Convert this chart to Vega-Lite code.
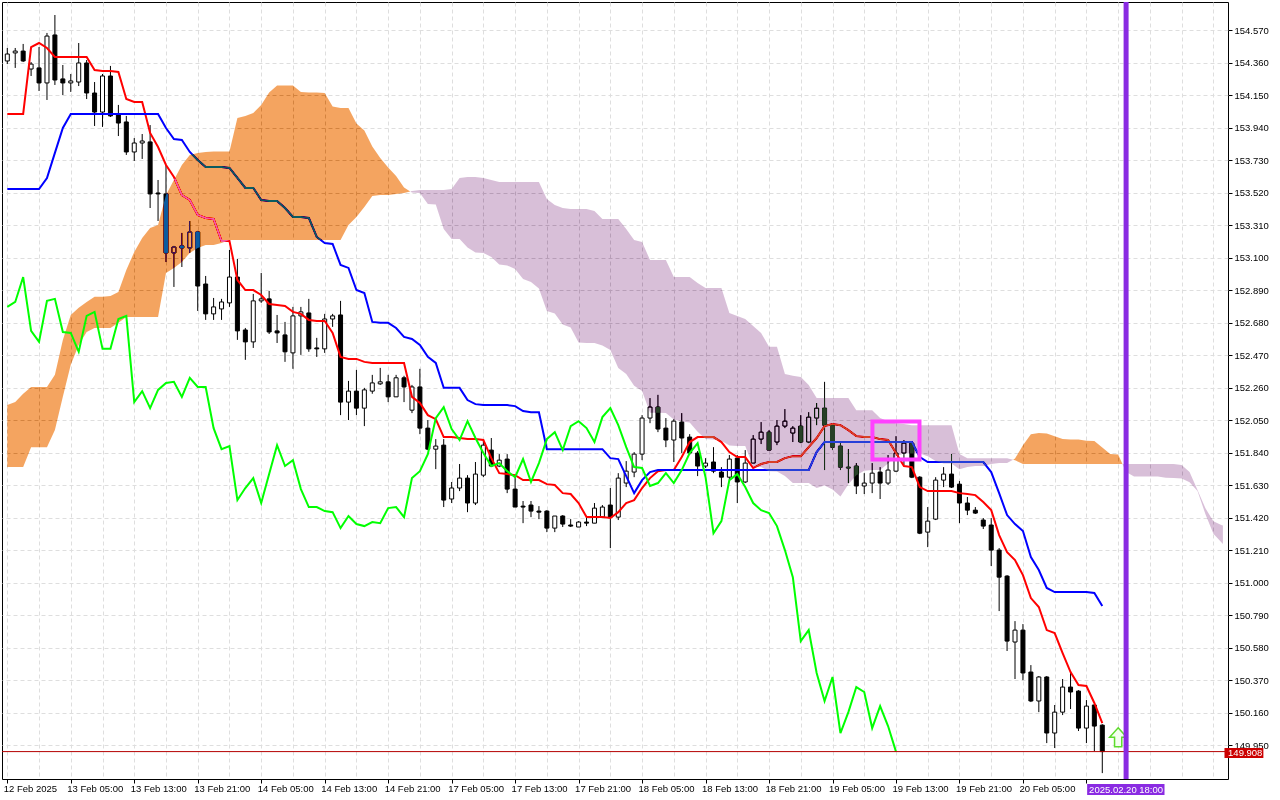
{
  "$schema": "https://vega.github.io/schema/vega-lite/v6.json",
  "width": 1226,
  "height": 777,
  "autosize": "none",
  "padding": {"left": 2, "top": 2, "right": 52, "bottom": 21},
  "background": "white",
  "config": {
    "view": {"stroke": "black", "strokeWidth": 1, "fill": "white"},
    "font": "Liberation Sans",
    "axis": {
      "labelFont": "Liberation Sans",
      "labelFontSize": 9.5,
      "labelColor": "black",
      "labelOverlap": false,
      "grid": true,
      "gridColor": "#dedede",
      "gridDash": [4, 3],
      "domain": false,
      "tickColor": "black",
      "tickSize": 4
    }
  },
  "datasets": {
    "bars": [
      {"k":0,"o":154.370,"h":154.454,"l":154.350,"c":154.415,"t":154.028,"kj":153.543,"ch":152.781},
      {"k":1,"o":154.422,"h":154.454,"l":154.325,"c":154.434,"t":154.028,"kj":153.543,"ch":152.813},
      {"k":2,"o":154.434,"h":154.480,"l":154.363,"c":154.370,"t":154.028,"kj":153.543,"ch":152.974},
      {"k":3,"o":154.318,"h":154.363,"l":154.273,"c":154.350,"t":154.460,"kj":153.543,"ch":152.626},
      {"k":4,"o":154.325,"h":154.460,"l":154.176,"c":154.228,"t":154.486,"kj":153.543,"ch":152.555},
      {"k":5,"o":154.228,"h":154.551,"l":154.118,"c":154.531,"t":154.454,"kj":153.614,"ch":152.820},
      {"k":6,"o":154.538,"h":154.667,"l":154.215,"c":154.247,"t":154.396,"kj":153.776,"ch":152.833},
      {"k":7,"o":154.254,"h":154.344,"l":154.150,"c":154.228,"t":154.396,"kj":153.937,"ch":152.619},
      {"k":8,"o":154.228,"h":154.286,"l":154.170,"c":154.241,"t":154.396,"kj":154.028,"ch":152.613},
      {"k":9,"o":154.234,"h":154.486,"l":154.208,"c":154.357,"t":154.396,"kj":154.028,"ch":152.491},
      {"k":10,"o":154.357,"h":154.376,"l":154.124,"c":154.163,"t":154.396,"kj":154.028,"ch":152.723},
      {"k":11,"o":154.163,"h":154.234,"l":153.950,"c":154.040,"t":154.312,"kj":154.028,"ch":152.749},
      {"k":12,"o":154.040,"h":154.286,"l":153.944,"c":154.273,"t":154.305,"kj":154.028,"ch":152.510},
      {"k":13,"o":154.273,"h":154.338,"l":154.008,"c":154.015,"t":154.305,"kj":154.028,"ch":152.510},
      {"k":14,"o":154.028,"h":154.086,"l":153.885,"c":153.969,"t":154.299,"kj":154.028,"ch":152.703},
      {"k":15,"o":153.976,"h":154.015,"l":153.763,"c":153.782,"t":154.124,"kj":154.028,"ch":152.723},
      {"k":16,"o":153.782,"h":153.872,"l":153.724,"c":153.840,"t":154.105,"kj":154.028,"ch":152.166},
      {"k":17,"o":153.840,"h":153.898,"l":153.737,"c":153.853,"t":154.105,"kj":154.028,"ch":152.237},
      {"k":18,"o":153.847,"h":153.956,"l":153.420,"c":153.511,"t":153.905,"kj":154.028,"ch":152.127},
      {"k":19,"o":153.517,"h":153.601,"l":153.336,"c":153.511,"t":153.814,"kj":154.028,"ch":152.245},
      {"k":20,"o":153.511,"h":153.698,"l":153.071,"c":153.130,"t":153.698,"kj":153.937,"ch":152.290},
      {"k":21,"o":153.130,"h":153.175,"l":152.910,"c":153.168,"t":153.620,"kj":153.866,"ch":152.297},
      {"k":22,"o":153.175,"h":153.259,"l":153.039,"c":153.162,"t":153.504,"kj":153.860,"ch":152.200},
      {"k":23,"o":153.162,"h":153.336,"l":153.130,"c":153.265,"t":153.472,"kj":153.782,"ch":152.323},
      {"k":24,"o":153.265,"h":153.272,"l":152.755,"c":152.916,"t":153.375,"kj":153.730,"ch":152.264},
      {"k":25,"o":152.929,"h":152.981,"l":152.697,"c":152.736,"t":153.356,"kj":153.685,"ch":152.264},
      {"k":26,"o":152.736,"h":152.839,"l":152.697,"c":152.781,"t":153.349,"kj":153.685,"ch":151.998},
      {"k":27,"o":152.768,"h":152.833,"l":152.697,"c":152.813,"t":153.207,"kj":153.685,"ch":151.862},
      {"k":28,"o":152.807,"h":153.149,"l":152.781,"c":152.974,"t":153.207,"kj":153.679,"ch":151.882},
      {"k":29,"o":152.974,"h":153.091,"l":152.568,"c":152.626,"t":152.955,"kj":153.614,"ch":151.533},
      {"k":30,"o":152.632,"h":152.645,"l":152.439,"c":152.555,"t":152.890,"kj":153.550,"ch":151.611},
      {"k":31,"o":152.555,"h":152.865,"l":152.516,"c":152.820,"t":152.890,"kj":153.550,"ch":151.675},
      {"k":32,"o":152.820,"h":153.000,"l":152.807,"c":152.833,"t":152.858,"kj":153.472,"ch":151.514},
      {"k":33,"o":152.833,"h":152.884,"l":152.606,"c":152.619,"t":152.800,"kj":153.466,"ch":151.701},
      {"k":34,"o":152.626,"h":152.729,"l":152.548,"c":152.613,"t":152.794,"kj":153.466,"ch":151.888},
      {"k":35,"o":152.600,"h":152.684,"l":152.426,"c":152.491,"t":152.787,"kj":153.420,"ch":151.753},
      {"k":36,"o":152.484,"h":152.781,"l":152.381,"c":152.723,"t":152.749,"kj":153.362,"ch":151.791},
      {"k":37,"o":152.723,"h":152.781,"l":152.471,"c":152.749,"t":152.736,"kj":153.362,"ch":151.604},
      {"k":38,"o":152.742,"h":152.833,"l":152.491,"c":152.510,"t":152.697,"kj":153.356,"ch":151.488},
      {"k":39,"o":152.516,"h":152.581,"l":152.458,"c":152.510,"t":152.690,"kj":153.233,"ch":151.488},
      {"k":40,"o":152.510,"h":152.736,"l":152.484,"c":152.703,"t":152.690,"kj":153.194,"ch":151.462},
      {"k":41,"o":152.703,"h":152.736,"l":152.652,"c":152.723,"t":152.613,"kj":153.188,"ch":151.455},
      {"k":42,"o":152.729,"h":152.820,"l":152.082,"c":152.166,"t":152.458,"kj":153.052,"ch":151.352},
      {"k":43,"o":152.166,"h":152.303,"l":152.050,"c":152.237,"t":152.445,"kj":153.033,"ch":151.430},
      {"k":44,"o":152.237,"h":152.374,"l":152.082,"c":152.127,"t":152.445,"kj":152.890,"ch":151.378},
      {"k":45,"o":152.127,"h":152.258,"l":152.011,"c":152.245,"t":152.426,"kj":152.871,"ch":151.365},
      {"k":46,"o":152.237,"h":152.342,"l":152.220,"c":152.290,"t":152.419,"kj":152.684,"ch":151.391},
      {"k":47,"o":152.284,"h":152.387,"l":152.277,"c":152.297,"t":152.419,"kj":152.678,"ch":151.384},
      {"k":48,"o":152.297,"h":152.342,"l":152.166,"c":152.200,"t":152.419,"kj":152.678,"ch":151.481},
      {"k":49,"o":152.200,"h":152.342,"l":152.200,"c":152.323,"t":152.419,"kj":152.645,"ch":151.488},
      {"k":50,"o":152.323,"h":152.336,"l":152.166,"c":152.264,"t":152.419,"kj":152.587,"ch":151.423},
      {"k":51,"o":152.114,"h":152.277,"l":152.095,"c":152.264,"t":152.200,"kj":152.574,"ch":151.675},
      {"k":52,"o":152.264,"h":152.381,"l":151.959,"c":151.998,"t":152.160,"kj":152.535,"ch":151.720},
      {"k":53,"o":151.998,"h":152.050,"l":151.856,"c":151.862,"t":152.082,"kj":152.458,"ch":151.830},
      {"k":54,"o":151.862,"h":151.927,"l":151.733,"c":151.882,"t":152.056,"kj":152.419,"ch":152.063},
      {"k":55,"o":151.888,"h":151.927,"l":151.488,"c":151.533,"t":151.940,"kj":152.258,"ch":152.134},
      {"k":56,"o":151.540,"h":151.650,"l":151.514,"c":151.611,"t":151.940,"kj":152.258,"ch":151.992},
      {"k":57,"o":151.611,"h":151.766,"l":151.591,"c":151.675,"t":151.934,"kj":152.258,"ch":151.921},
      {"k":58,"o":151.675,"h":151.694,"l":151.455,"c":151.514,"t":151.927,"kj":152.179,"ch":152.043},
      {"k":59,"o":151.514,"h":151.779,"l":151.501,"c":151.701,"t":151.927,"kj":152.153,"ch":151.934},
      {"k":60,"o":151.694,"h":151.921,"l":151.681,"c":151.888,"t":151.921,"kj":152.147,"ch":151.837},
      {"k":61,"o":151.856,"h":151.934,"l":151.746,"c":151.753,"t":151.804,"kj":152.147,"ch":151.753},
      {"k":62,"o":151.753,"h":151.830,"l":151.746,"c":151.791,"t":151.707,"kj":152.147,"ch":151.772},
      {"k":63,"o":151.798,"h":151.830,"l":151.578,"c":151.604,"t":151.701,"kj":152.147,"ch":151.720},
      {"k":64,"o":151.604,"h":151.681,"l":151.488,"c":151.488,"t":151.694,"kj":152.140,"ch":151.681},
      {"k":65,"o":151.494,"h":151.527,"l":151.384,"c":151.488,"t":151.662,"kj":152.108,"ch":151.798},
      {"k":66,"o":151.501,"h":151.527,"l":151.423,"c":151.462,"t":151.662,"kj":152.101,"ch":151.650},
      {"k":67,"o":151.462,"h":151.494,"l":151.410,"c":151.455,"t":151.662,"kj":152.101,"ch":151.772},
      {"k":68,"o":151.462,"h":151.468,"l":151.326,"c":151.352,"t":151.636,"kj":151.862,"ch":151.927},
      {"k":69,"o":151.352,"h":151.430,"l":151.326,"c":151.430,"t":151.630,"kj":151.862,"ch":151.972},
      {"k":70,"o":151.430,"h":151.436,"l":151.359,"c":151.378,"t":151.578,"kj":151.862,"ch":151.856},
      {"k":71,"o":151.372,"h":151.410,"l":151.359,"c":151.365,"t":151.572,"kj":151.862,"ch":152.011},
      {"k":72,"o":151.359,"h":151.397,"l":151.359,"c":151.391,"t":151.514,"kj":151.862,"ch":152.043},
      {"k":73,"o":151.391,"h":151.423,"l":151.365,"c":151.384,"t":151.423,"kj":151.862,"ch":151.998},
      {"k":74,"o":151.384,"h":151.514,"l":151.384,"c":151.481,"t":151.423,"kj":151.862,"ch":151.908},
      {"k":75,"o":151.423,"h":151.501,"l":151.417,"c":151.488,"t":151.423,"kj":151.862,"ch":152.069},
      {"k":76,"o":151.501,"h":151.611,"l":151.223,"c":151.423,"t":151.417,"kj":151.804,"ch":152.127},
      {"k":77,"o":151.423,"h":151.707,"l":151.404,"c":151.675,"t":151.455,"kj":151.798,"ch":152.017},
      {"k":78,"o":151.643,"h":151.785,"l":151.617,"c":151.720,"t":151.514,"kj":151.688,"ch":151.875},
      {"k":79,"o":151.714,"h":151.843,"l":151.681,"c":151.830,"t":151.533,"kj":151.578,"ch":151.746},
      {"k":80,"o":151.830,"h":152.082,"l":151.791,"c":152.063,"t":151.611,"kj":151.662,"ch":151.740},
      {"k":81,"o":152.063,"h":152.192,"l":152.030,"c":152.134,"t":151.675,"kj":151.714,"ch":151.624},
      {"k":82,"o":152.134,"h":152.213,"l":151.972,"c":151.992,"t":151.720,"kj":151.727,"ch":151.643},
      {"k":83,"o":151.998,"h":152.063,"l":151.875,"c":151.921,"t":151.727,"kj":151.727,"ch":151.707},
      {"k":84,"o":151.921,"h":152.056,"l":151.779,"c":152.043,"t":151.727,"kj":151.727,"ch":151.643},
      {"k":85,"o":152.037,"h":152.095,"l":151.837,"c":151.934,"t":151.811,"kj":151.727,"ch":151.727},
      {"k":86,"o":151.940,"h":151.959,"l":151.824,"c":151.837,"t":151.908,"kj":151.727,"ch":151.837},
      {"k":87,"o":151.837,"h":151.850,"l":151.688,"c":151.753,"t":151.940,"kj":151.727,"ch":151.901},
      {"k":88,"o":151.753,"h":151.804,"l":151.740,"c":151.772,"t":151.940,"kj":151.727,"ch":151.681},
      {"k":89,"o":151.779,"h":151.875,"l":151.707,"c":151.720,"t":151.940,"kj":151.727,"ch":151.319},
      {"k":90,"o":151.714,"h":151.746,"l":151.617,"c":151.681,"t":151.908,"kj":151.727,"ch":151.397},
      {"k":91,"o":151.681,"h":151.824,"l":151.662,"c":151.798,"t":151.843,"kj":151.727,"ch":151.662},
      {"k":92,"o":151.804,"h":151.824,"l":151.514,"c":151.650,"t":151.811,"kj":151.727,"ch":151.701},
      {"k":93,"o":151.650,"h":151.856,"l":151.643,"c":151.772,"t":151.811,"kj":151.727,"ch":151.617},
      {"k":94,"o":151.772,"h":151.953,"l":151.772,"c":151.927,"t":151.740,"kj":151.727,"ch":151.514},
      {"k":95,"o":151.927,"h":152.037,"l":151.895,"c":151.972,"t":151.766,"kj":151.727,"ch":151.468},
      {"k":96,"o":151.972,"h":151.985,"l":151.856,"c":151.856,"t":151.779,"kj":151.727,"ch":151.449},
      {"k":97,"o":151.908,"h":152.050,"l":151.888,"c":152.011,"t":151.779,"kj":151.727,"ch":151.365},
      {"k":98,"o":152.011,"h":152.121,"l":151.998,"c":152.043,"t":151.804,"kj":151.727,"ch":151.210},
      {"k":99,"o":151.966,"h":152.011,"l":151.908,"c":151.998,"t":151.817,"kj":151.727,"ch":151.035},
      {"k":100,"o":152.011,"h":152.082,"l":151.901,"c":151.908,"t":151.817,"kj":151.727,"ch":150.622},
      {"k":101,"o":151.908,"h":152.101,"l":151.901,"c":152.069,"t":151.875,"kj":151.727,"ch":150.693},
      {"k":102,"o":152.063,"h":152.160,"l":152.017,"c":152.127,"t":151.934,"kj":151.843,"ch":150.416},
      {"k":103,"o":152.127,"h":152.297,"l":151.727,"c":152.017,"t":152.011,"kj":151.908,"ch":150.235},
      {"k":104,"o":152.017,"h":152.030,"l":151.856,"c":151.875,"t":152.024,"kj":151.908,"ch":150.390},
      {"k":105,"o":151.882,"h":151.908,"l":151.727,"c":151.746,"t":152.017,"kj":151.908,"ch":150.028},
      {"k":106,"o":151.746,"h":151.862,"l":151.643,"c":151.740,"t":151.985,"kj":151.908,"ch":150.163},
      {"k":107,"o":151.753,"h":151.772,"l":151.572,"c":151.624,"t":151.946,"kj":151.908,"ch":150.325},
      {"k":108,"o":151.624,"h":151.707,"l":151.572,"c":151.643,"t":151.940,"kj":151.908,"ch":150.293},
      {"k":109,"o":151.643,"h":151.772,"l":151.578,"c":151.707,"t":151.940,"kj":151.908,"ch":150.060},
      {"k":110,"o":151.714,"h":151.746,"l":151.540,"c":151.643,"t":151.927,"kj":151.908,"ch":150.202},
      {"k":111,"o":151.643,"h":151.824,"l":151.630,"c":151.727,"t":151.921,"kj":151.908,"ch":150.073},
      {"k":112,"o":151.720,"h":151.946,"l":151.714,"c":151.837,"t":151.837,"kj":151.908,"ch":149.908},
      {"k":113,"o":151.837,"h":151.921,"l":151.759,"c":151.901,"t":151.753,"kj":151.908},
      {"k":114,"o":151.901,"h":151.908,"l":151.675,"c":151.681,"t":151.746,"kj":151.908},
      {"k":115,"o":151.681,"h":151.688,"l":151.313,"c":151.319,"t":151.617,"kj":151.811},
      {"k":116,"o":151.326,"h":151.488,"l":151.229,"c":151.397,"t":151.591,"kj":151.779},
      {"k":117,"o":151.410,"h":151.681,"l":151.404,"c":151.662,"t":151.591,"kj":151.779},
      {"k":118,"o":151.662,"h":151.746,"l":151.617,"c":151.701,"t":151.591,"kj":151.779},
      {"k":119,"o":151.701,"h":151.830,"l":151.611,"c":151.617,"t":151.591,"kj":151.779},
      {"k":120,"o":151.636,"h":151.656,"l":151.384,"c":151.514,"t":151.578,"kj":151.779},
      {"k":121,"o":151.514,"h":151.553,"l":151.436,"c":151.468,"t":151.572,"kj":151.779},
      {"k":122,"o":151.468,"h":151.488,"l":151.443,"c":151.449,"t":151.565,"kj":151.779},
      {"k":123,"o":151.404,"h":151.417,"l":151.346,"c":151.365,"t":151.520,"kj":151.779},
      {"k":124,"o":151.372,"h":151.417,"l":151.107,"c":151.210,"t":151.468,"kj":151.714},
      {"k":125,"o":151.210,"h":151.223,"l":150.816,"c":151.035,"t":151.307,"kj":151.578},
      {"k":126,"o":151.042,"h":151.048,"l":150.558,"c":150.622,"t":151.197,"kj":151.436},
      {"k":127,"o":150.616,"h":150.751,"l":150.377,"c":150.693,"t":151.145,"kj":151.378},
      {"k":128,"o":150.693,"h":150.732,"l":150.370,"c":150.416,"t":151.048,"kj":151.333},
      {"k":129,"o":150.422,"h":150.467,"l":150.228,"c":150.235,"t":150.900,"kj":151.165},
      {"k":130,"o":150.235,"h":150.396,"l":150.163,"c":150.390,"t":150.842,"kj":151.081},
      {"k":131,"o":150.390,"h":150.396,"l":149.963,"c":150.028,"t":150.693,"kj":150.965},
      {"k":132,"o":150.028,"h":150.209,"l":149.931,"c":150.163,"t":150.674,"kj":150.939},
      {"k":133,"o":150.163,"h":150.377,"l":150.144,"c":150.325,"t":150.545,"kj":150.939},
      {"k":134,"o":150.325,"h":150.422,"l":150.183,"c":150.293,"t":150.422,"kj":150.939},
      {"k":135,"o":150.299,"h":150.305,"l":150.041,"c":150.060,"t":150.338,"kj":150.939},
      {"k":136,"o":150.060,"h":150.241,"l":149.963,"c":150.202,"t":150.332,"kj":150.939},
      {"k":137,"o":150.209,"h":150.215,"l":149.911,"c":150.073,"t":150.222,"kj":150.933},
      {"k":138,"o":150.079,"h":150.085,"l":149.769,"c":149.908,"t":150.092,"kj":150.849}
    ],
    "cloud": [
      {"k":0,"a":152.147,"b":151.746,"s":"bull1"},
      {"k":1,"a":152.166,"b":151.746,"s":"bull1"},
      {"k":2,"a":152.220,"b":151.746,"s":"bull1"},
      {"k":3,"a":152.264,"b":151.875,"s":"bull1"},
      {"k":4,"a":152.264,"b":151.875,"s":"bull1"},
      {"k":5,"a":152.264,"b":151.875,"s":"bull1"},
      {"k":6,"a":152.342,"b":151.985,"s":"bull1"},
      {"k":7,"a":152.568,"b":152.200,"s":"bull1"},
      {"k":8,"a":152.729,"b":152.407,"s":"bull1"},
      {"k":9,"a":152.775,"b":152.535,"s":"bull1"},
      {"k":10,"a":152.813,"b":152.619,"s":"bull1"},
      {"k":11,"a":152.846,"b":152.645,"s":"bull1"},
      {"k":12,"a":152.846,"b":152.645,"s":"bull1"},
      {"k":13,"a":152.852,"b":152.645,"s":"bull1"},
      {"k":14,"a":152.878,"b":152.678,"s":"bull1"},
      {"k":15,"a":153.020,"b":152.716,"s":"bull1"},
      {"k":16,"a":153.136,"b":152.716,"s":"bull1"},
      {"k":17,"a":153.226,"b":152.716,"s":"bull1"},
      {"k":18,"a":153.291,"b":152.716,"s":"bull1"},
      {"k":19,"a":153.310,"b":152.716,"s":"bull1"},
      {"k":20,"a":153.504,"b":153.000,"s":"bull1"},
      {"k":21,"a":153.601,"b":153.033,"s":"bull1"},
      {"k":22,"a":153.698,"b":153.071,"s":"bull1"},
      {"k":23,"a":153.763,"b":153.130,"s":"bull1"},
      {"k":24,"a":153.776,"b":153.162,"s":"bull1"},
      {"k":25,"a":153.782,"b":153.181,"s":"bull1"},
      {"k":26,"a":153.785,"b":153.181,"s":"bull1"},
      {"k":27,"a":153.785,"b":153.194,"s":"bull1"},
      {"k":28,"a":153.785,"b":153.213,"s":"bull1"},
      {"k":29,"a":154.002,"b":153.213,"s":"bull1"},
      {"k":30,"a":154.015,"b":153.213,"s":"bull1"},
      {"k":31,"a":154.034,"b":153.213,"s":"bull1"},
      {"k":32,"a":154.086,"b":153.213,"s":"bull1"},
      {"k":33,"a":154.166,"b":153.213,"s":"bull1"},
      {"k":34,"a":154.212,"b":153.213,"s":"bull1"},
      {"k":35,"a":154.212,"b":153.213,"s":"bull1"},
      {"k":36,"a":154.212,"b":153.213,"s":"bull1"},
      {"k":37,"a":154.170,"b":153.213,"s":"bull1"},
      {"k":38,"a":154.166,"b":153.213,"s":"bull1"},
      {"k":39,"a":154.166,"b":153.213,"s":"bull1"},
      {"k":40,"a":154.163,"b":153.213,"s":"bull1"},
      {"k":41,"a":154.076,"b":153.213,"s":"bull1"},
      {"k":42,"a":154.066,"b":153.213,"s":"bull1"},
      {"k":43,"a":154.066,"b":153.310,"s":"bull1"},
      {"k":44,"a":153.966,"b":153.362,"s":"bull1"},
      {"k":45,"a":153.921,"b":153.427,"s":"bull1"},
      {"k":46,"a":153.817,"b":153.498,"s":"bull1"},
      {"k":47,"a":153.743,"b":153.504,"s":"bull1"},
      {"k":48,"a":153.682,"b":153.504,"s":"bull1"},
      {"k":49,"a":153.627,"b":153.511,"s":"bull1"},
      {"k":50,"a":153.553,"b":153.517,"s":"bull1"},
      {"k":50.78,"a":153.527,"b":153.527,"s":"bull1"},
      {"k":50.78,"a":153.527,"b":153.527,"s":"bear1"},
      {"k":51,"a":153.520,"b":153.530,"s":"bear1"},
      {"k":52,"a":153.517,"b":153.537,"s":"bear1"},
      {"k":53,"a":153.446,"b":153.537,"s":"bear1"},
      {"k":54,"a":153.443,"b":153.537,"s":"bear1"},
      {"k":55,"a":153.285,"b":153.537,"s":"bear1"},
      {"k":56,"a":153.220,"b":153.543,"s":"bear1"},
      {"k":57,"a":153.220,"b":153.614,"s":"bear1"},
      {"k":58,"a":153.165,"b":153.620,"s":"bear1"},
      {"k":59,"a":153.133,"b":153.620,"s":"bear1"},
      {"k":60,"a":153.130,"b":153.614,"s":"bear1"},
      {"k":61,"a":153.104,"b":153.601,"s":"bear1"},
      {"k":62,"a":153.055,"b":153.588,"s":"bear1"},
      {"k":63,"a":153.049,"b":153.588,"s":"bear1"},
      {"k":64,"a":153.026,"b":153.588,"s":"bear1"},
      {"k":65,"a":152.962,"b":153.588,"s":"bear1"},
      {"k":66,"a":152.942,"b":153.588,"s":"bear1"},
      {"k":67,"a":152.900,"b":153.588,"s":"bear1"},
      {"k":68,"a":152.755,"b":153.478,"s":"bear1"},
      {"k":69,"a":152.739,"b":153.440,"s":"bear1"},
      {"k":70,"a":152.668,"b":153.420,"s":"bear1"},
      {"k":71,"a":152.648,"b":153.414,"s":"bear1"},
      {"k":72,"a":152.551,"b":153.414,"s":"bear1"},
      {"k":73,"a":152.548,"b":153.414,"s":"bear1"},
      {"k":74,"a":152.548,"b":153.401,"s":"bear1"},
      {"k":75,"a":152.532,"b":153.349,"s":"bear1"},
      {"k":76,"a":152.503,"b":153.349,"s":"bear1"},
      {"k":77,"a":152.387,"b":153.349,"s":"bear1"},
      {"k":78,"a":152.348,"b":153.284,"s":"bear1"},
      {"k":79,"a":152.271,"b":153.213,"s":"bear1"},
      {"k":80,"a":152.238,"b":153.201,"s":"bear1"},
      {"k":81,"a":152.098,"b":153.084,"s":"bear1"},
      {"k":82,"a":152.098,"b":153.084,"s":"bear1"},
      {"k":83,"a":152.095,"b":153.084,"s":"bear1"},
      {"k":84,"a":152.053,"b":152.974,"s":"bear1"},
      {"k":85,"a":152.040,"b":152.974,"s":"bear1"},
      {"k":86,"a":152.034,"b":152.974,"s":"bear1"},
      {"k":87,"a":151.975,"b":152.936,"s":"bear1"},
      {"k":88,"a":151.927,"b":152.903,"s":"bear1"},
      {"k":89,"a":151.924,"b":152.903,"s":"bear1"},
      {"k":90,"a":151.917,"b":152.903,"s":"bear1"},
      {"k":91,"a":151.885,"b":152.742,"s":"bear1"},
      {"k":92,"a":151.882,"b":152.723,"s":"bear1"},
      {"k":93,"a":151.882,"b":152.703,"s":"bear1"},
      {"k":94,"a":151.750,"b":152.658,"s":"bear1"},
      {"k":95,"a":151.746,"b":152.613,"s":"bear1"},
      {"k":96,"a":151.720,"b":152.523,"s":"bear1"},
      {"k":97,"a":151.717,"b":152.523,"s":"bear1"},
      {"k":98,"a":151.688,"b":152.348,"s":"bear1"},
      {"k":99,"a":151.643,"b":152.336,"s":"bear1"},
      {"k":100,"a":151.643,"b":152.329,"s":"bear1"},
      {"k":101,"a":151.643,"b":152.277,"s":"bear1"},
      {"k":102,"a":151.611,"b":152.192,"s":"bear1"},
      {"k":103,"a":151.627,"b":152.192,"s":"bear1"},
      {"k":104,"a":151.601,"b":152.192,"s":"bear1"},
      {"k":105,"a":151.556,"b":152.192,"s":"bear1"},
      {"k":106,"a":151.636,"b":152.192,"s":"bear1"},
      {"k":107,"a":151.694,"b":152.114,"s":"bear1"},
      {"k":108,"a":151.723,"b":152.114,"s":"bear1"},
      {"k":109,"a":151.727,"b":152.114,"s":"bear1"},
      {"k":110,"a":151.727,"b":152.063,"s":"bear1"},
      {"k":111,"a":151.769,"b":152.043,"s":"bear1"},
      {"k":112,"a":151.817,"b":152.030,"s":"bear1"},
      {"k":113,"a":151.834,"b":152.024,"s":"bear1"},
      {"k":114,"a":151.834,"b":152.017,"s":"bear1"},
      {"k":115,"a":151.834,"b":152.017,"s":"bear1"},
      {"k":116,"a":151.817,"b":152.017,"s":"bear1"},
      {"k":117,"a":151.785,"b":152.017,"s":"bear1"},
      {"k":118,"a":151.769,"b":152.017,"s":"bear1"},
      {"k":119,"a":151.769,"b":152.017,"s":"bear1"},
      {"k":120,"a":151.733,"b":151.830,"s":"bear1"},
      {"k":121,"a":151.746,"b":151.804,"s":"bear1"},
      {"k":122,"a":151.753,"b":151.804,"s":"bear1"},
      {"k":123,"a":151.753,"b":151.804,"s":"bear1"},
      {"k":124,"a":151.766,"b":151.804,"s":"bear1"},
      {"k":125,"a":151.772,"b":151.804,"s":"bear1"},
      {"k":126,"a":151.772,"b":151.804,"s":"bear1"},
      {"k":126.76,"a":151.794,"b":151.794,"s":"bear1"},
      {"k":126.76,"a":151.794,"b":151.794,"s":"bull2"},
      {"k":127,"a":151.801,"b":151.791,"s":"bull2"},
      {"k":128,"a":151.888,"b":151.766,"s":"bull2"},
      {"k":129,"a":151.959,"b":151.766,"s":"bull2"},
      {"k":130,"a":151.966,"b":151.766,"s":"bull2"},
      {"k":131,"a":151.963,"b":151.766,"s":"bull2"},
      {"k":132,"a":151.946,"b":151.766,"s":"bull2"},
      {"k":133,"a":151.927,"b":151.766,"s":"bull2"},
      {"k":134,"a":151.924,"b":151.766,"s":"bull2"},
      {"k":135,"a":151.924,"b":151.766,"s":"bull2"},
      {"k":136,"a":151.917,"b":151.766,"s":"bull2"},
      {"k":137,"a":151.914,"b":151.766,"s":"bull2"},
      {"k":138,"a":151.872,"b":151.766,"s":"bull2"},
      {"k":139,"a":151.830,"b":151.766,"s":"bull2"},
      {"k":140,"a":151.827,"b":151.766,"s":"bull2"},
      {"k":140.54,"a":151.766,"b":151.766,"s":"bull2"},
      {"k":140.54,"a":151.766,"b":151.766,"s":"bear2"},
      {"k":141,"a":151.714,"b":151.766,"s":"bear2"},
      {"k":142,"a":151.685,"b":151.766,"s":"bear2"},
      {"k":143,"a":151.685,"b":151.766,"s":"bear2"},
      {"k":144,"a":151.685,"b":151.766,"s":"bear2"},
      {"k":145,"a":151.685,"b":151.766,"s":"bear2"},
      {"k":146,"a":151.678,"b":151.766,"s":"bear2"},
      {"k":147,"a":151.675,"b":151.766,"s":"bear2"},
      {"k":148,"a":151.672,"b":151.759,"s":"bear2"},
      {"k":149,"a":151.649,"b":151.714,"s":"bear2"},
      {"k":150,"a":151.591,"b":151.598,"s":"bear2"},
      {"k":151,"a":151.442,"b":151.481,"s":"bear2"},
      {"k":152,"a":151.316,"b":151.397,"s":"bear2"},
      {"k":153,"a":151.261,"b":151.372,"s":"bear2"},
      {"k":153.2,"a":151.250,"b":151.368,"s":"bear2"}
    ]
  },
  "layer": [
    {
      "data": {"name": "bars"},
      "mark": {"type": "rule", "color": "black", "strokeWidth": 1, "clip": true},
      "encoding": {
        "x": {
          "field": "k", "type": "quantitative", "title": null,
          "scale": {"domain": [-0.0375, 153.2125], "nice": false, "zero": false},
          "axis": {
            "orient": "bottom",
            "values": [0,4,8,12,16,20,24,28,32,36,40,44,48,52,56,60,64,68,72,76,80,84,88,92,96,100,104,108,112,116,120,124,128,132,136,140,144,148,152],
            "tickCount": 100,
            "labelExpr": "(datum.value % 8 == 0 && datum.value <= 128) ? ['12 Feb 2025','13 Feb 05:00','13 Feb 13:00','13 Feb 21:00','14 Feb 05:00','14 Feb 13:00','14 Feb 21:00','17 Feb 05:00','17 Feb 13:00','17 Feb 21:00','18 Feb 05:00','18 Feb 13:00','18 Feb 21:00','19 Feb 05:00','19 Feb 13:00','19 Feb 21:00','20 Feb 05:00'][datum.value / 8] : ''",
            "labelAlign": "left",
            "labelBaseline": "alphabetic",
            "labelPadding": 8,
            "labelOffset": -4,
            "labelOverlap": false,
            "labelBound": false,
            "labelFlush": false,
            "tickOpacity": {"condition": {"test": "datum.value % 8 != 0 || datum.value > 136", "value": 0}, "value": 1}
          }
        },
        "y": {
          "field": "l", "type": "quantitative", "title": null,
          "scale": {"domain": [149.731, 154.751], "nice": false, "zero": false},
          "axis": {
            "orient": "right",
            "values": [149.95,150.16,150.37,150.58,150.79,151.0,151.21,151.42,151.63,151.84,152.05,152.26,152.47,152.68,152.89,153.1,153.31,153.52,153.73,153.94,154.15,154.36,154.57],
            "tickCount": 100,
            "format": ".3f",
            "labelPadding": 2,
            "labelAlign": "left",
            "labelBaseline": "middle",
            "labelOverlap": false,
            "labelBound": false,
            "labelFlush": false
          }
        },
        "y2": {"field": "h"}
      }
    },
    {
      "data": {"name": "bars"},
      "mark": {"type": "bar", "size": 4, "stroke": "black", "strokeWidth": 1, "clip": true},
      "encoding": {
        "x": {"field": "k", "type": "quantitative", "title": null},
        "y": {"field": "o", "type": "quantitative", "title": null, "axis": {"orient": "right"}},
        "y2": {"field": "c"},
        "fill": {"condition": {"test": "datum.c >= datum.o", "value": "white"}, "value": "black"}
      }
    },
    {
      "data": {"name": "bars"},
      "mark": {"type": "line", "color": "#ff0000", "strokeWidth": 2},
      "encoding": {
        "x": {"field": "k", "type": "quantitative", "title": null},
        "y": {"field": "t", "type": "quantitative", "title": null, "axis": {"orient": "right"}}
      }
    },
    {
      "data": {"name": "bars"},
      "mark": {"type": "line", "color": "#0000ff", "strokeWidth": 2},
      "encoding": {
        "x": {"field": "k", "type": "quantitative", "title": null},
        "y": {"field": "kj", "type": "quantitative", "title": null, "axis": {"orient": "right"}}
      }
    },
    {
      "data": {"name": "cloud"},
      "mark": {"type": "area", "blend": "difference", "opacity": 1},
      "encoding": {
        "x": {"field": "k", "type": "quantitative", "title": null},
        "y": {"field": "a", "type": "quantitative", "title": null, "stack": null, "axis": {"orient": "right"}},
        "y2": {"field": "b"},
        "color": {
          "field": "s", "type": "nominal", "legend": null,
          "scale": {"domain": ["bull1", "bear1", "bull2", "bear2"], "range": ["#0b5b9f", "#274027", "#0b5b9f", "#274027"]}
        }
      }
    },
    {
      "data": {"name": "bars"},
      "mark": {"type": "line", "color": "#00ff00", "strokeWidth": 2},
      "encoding": {
        "x": {"field": "k", "type": "quantitative", "title": null},
        "y": {"field": "ch", "type": "quantitative", "title": null, "axis": {"orient": "right"}}
      }
    },
    {
      "data": {"values": [{"p": 149.908}]},
      "mark": {"type": "rule", "color": "#b40000", "strokeWidth": 1},
      "encoding": {"y": {"field": "p", "type": "quantitative", "title": null, "axis": {"orient": "right"}}}
    },
    {
      "data": {"values": [{"k1": 109.03, "k2": 114.96, "p1": 152.040, "p2": 151.795}]},
      "mark": {"type": "rect", "fillOpacity": 0, "stroke": "#ff40ff", "strokeWidth": 4},
      "encoding": {
        "x": {"field": "k1", "type": "quantitative", "title": null},
        "x2": {"field": "k2"},
        "y": {"field": "p1", "type": "quantitative", "title": null, "axis": {"orient": "right"}},
        "y2": {"field": "p2"}
      }
    },
    {
      "data": {"values": [{"k": 140, "p": 150.0}]},
      "mark": {"type": "point", "shape": "M0,-1L0.9,0L0.38,0L0.38,1L-0.38,1L-0.38,0L-0.9,0Z", "size": 361, "filled": true, "fill": "#f4fff0", "stroke": "#5ddc2c", "strokeWidth": 1.5, "opacity": 1},
      "encoding": {
        "x": {"field": "k", "type": "quantitative", "title": null},
        "y": {"field": "p", "type": "quantitative", "title": null, "axis": {"orient": "right"}}
      }
    },
    {
      "data": {"values": [{"k": 141}]},
      "mark": {"type": "rule", "color": "#8a2be2", "strokeWidth": 5},
      "encoding": {"x": {"field": "k", "type": "quantitative", "title": null}}
    },
    {
      "data": {"values": [{"k1": 136.09, "k2": 145.84, "p1": 149.698, "p2": 149.627}]},
      "mark": {"type": "rect", "color": "#8a2be2"},
      "encoding": {
        "x": {"field": "k1", "type": "quantitative", "title": null},
        "x2": {"field": "k2"},
        "y": {"field": "p1", "type": "quantitative", "title": null, "axis": {"orient": "right"}},
        "y2": {"field": "p2"}
      }
    },
    {
      "data": {"values": [{"k1": 153.4, "k2": 158.3, "p1": 149.931, "p2": 149.866}]},
      "mark": {"type": "rect", "color": "#cc0000"},
      "encoding": {
        "x": {"field": "k1", "type": "quantitative", "title": null},
        "x2": {"field": "k2"},
        "y": {"field": "p1", "type": "quantitative", "title": null, "axis": {"orient": "right"}},
        "y2": {"field": "p2"}
      }
    },
    {
      "data": {"values": [{"k": 141, "p": 149.663, "txt": "2025.02.20 18:00"}]},
      "mark": {"type": "text", "color": "white", "fontSize": 9.5, "font": "Liberation Sans", "align": "center", "baseline": "middle"},
      "encoding": {
        "x": {"field": "k", "type": "quantitative", "title": null},
        "y": {"field": "p", "type": "quantitative", "title": null, "axis": {"orient": "right"}},
        "text": {"field": "txt"}
      }
    },
    {
      "data": {"values": [{"k": 153.85, "p": 149.899, "txt": "149.908"}]},
      "mark": {"type": "text", "color": "white", "fontSize": 9.5, "font": "Liberation Sans", "align": "left", "baseline": "middle"},
      "encoding": {
        "x": {"field": "k", "type": "quantitative", "title": null},
        "y": {"field": "p", "type": "quantitative", "title": null, "axis": {"orient": "right"}},
        "text": {"field": "txt"}
      }
    }
  ]
}
